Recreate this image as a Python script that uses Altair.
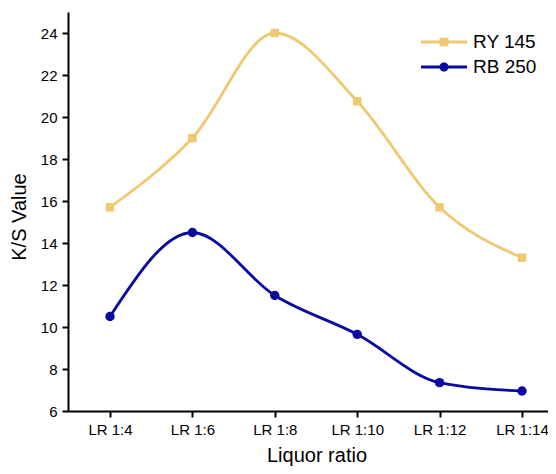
import altair as alt
import pandas as pd

categories = ["LR 1:4", "LR 1:6", "LR 1:8", "LR 1:10", "LR 1:12", "LR 1:14"]
ry145 = [15.7, 19.0, 24.0, 20.75, 15.7, 13.3]
rb250 = [10.5, 14.5, 11.5, 9.65, 7.35, 6.95]
series_names = ["RY 145", "RB 250"]
colors = ["#EFC870", "#0A0AA0"]
y_ticks = [6, 8, 10, 12, 14, 16, 18, 20, 22, 24]

rows = []
for name, vals in zip(series_names, [ry145, rb250]):
    for c, v in zip(categories, vals):
        rows.append({"ratio": c, "value": v, "series": name})
df = pd.DataFrame(rows)

FONT = "Liberation Sans"

x_enc = alt.X("ratio:N", sort=categories,
              scale=alt.Scale(type="point", padding=0.4126, align=0.6176),
              axis=alt.Axis(title="Liquor ratio", labelAngle=0, titleX=248.5,
                            titlePadding=8))
y_enc = alt.Y("value:Q", scale=alt.Scale(domain=[6, 25], nice=False, zero=False),
              axis=alt.Axis(title="K/S Value", values=y_ticks, titleY=204.5,
                            titlePadding=11))
color_scale = alt.Scale(domain=series_names, range=colors)

base = alt.Chart(df)

lines = base.mark_line(interpolate="monotone", strokeWidth=2.8).encode(
    x=x_enc, y=y_enc,
    color=alt.Color("series:N", scale=color_scale, legend=None),
    detail="series:N",
)

squares = base.transform_filter(alt.datum.series == "RY 145").mark_point(
    filled=True, opacity=1, size=72, shape="square").encode(
    x=x_enc, y=y_enc,
    color=alt.Color("series:N", scale=color_scale, legend=None),
)
circles = base.transform_filter(alt.datum.series == "RB 250").mark_point(
    filled=True, opacity=1, size=88, shape="circle").encode(
    x=x_enc, y=y_enc,
    color=alt.Color("series:N", scale=color_scale, legend=None),
)

# legend symbols: a line with a marker, as filled shapes
sq_path = ("M-2,-0.14 L2,-0.14 L2,0.14 L-2,0.14 Z "
           "M-0.38,-0.38 L0.38,-0.38 L0.38,0.38 L-0.38,0.38 Z")
ci_path = ("M-2,-0.14 L2,-0.14 L2,0.14 L-2,0.14 Z "
           "M-0.4,0 A0.4,0.4 0 1,1 0.4,0 A0.4,0.4 0 1,1 -0.4,0 Z")
legend_paths = [sq_path, ci_path]
legend_y = [18.5, 43.5]


def legend_layer(i):
    name = series_names[i]
    col = colors[i]
    return base.transform_filter("false").mark_point(
        filled=True, opacity=1, color=col, fill=col
    ).encode(
        x=x_enc, y=y_enc,
        shape=alt.Shape("series:N",
                        scale=alt.Scale(domain=[name], range=[legend_paths[i]]),
                        legend=alt.Legend(title=None, orient="none", legendX=364.5,
                                          legendY=legend_y[i], padding=0,
                                          symbolSize=529, symbolStrokeWidth=0,
                                          symbolOpacity=1, symbolFillColor=col,
                                          labelFontSize=19, labelFont=FONT,
                                          labelColor="#000", labelOffset=17.5)),
    )


chart = alt.layer(lines, squares, circles, legend_layer(0), legend_layer(1)).resolve_scale(
    shape="independent"
).properties(
    width=480, height=399,
    autosize=alt.AutoSizeParams(type="none"),
    padding={"left": 60, "top": 4, "right": 0, "bottom": 55},
).configure_view(stroke=None).configure_axis(
    domainColor="#000", domainWidth=2, tickColor="#000", tickWidth=2, tickSize=6,
    grid=False, labelFont=FONT, labelFontSize=15, labelColor="#000",
    titleFont=FONT, titleFontSize=20, titleFontWeight="normal", titleColor="#000",
    labelPadding=5,
)

chart.save("out.html", embed_options={"renderer": "svg", "actions": False})
